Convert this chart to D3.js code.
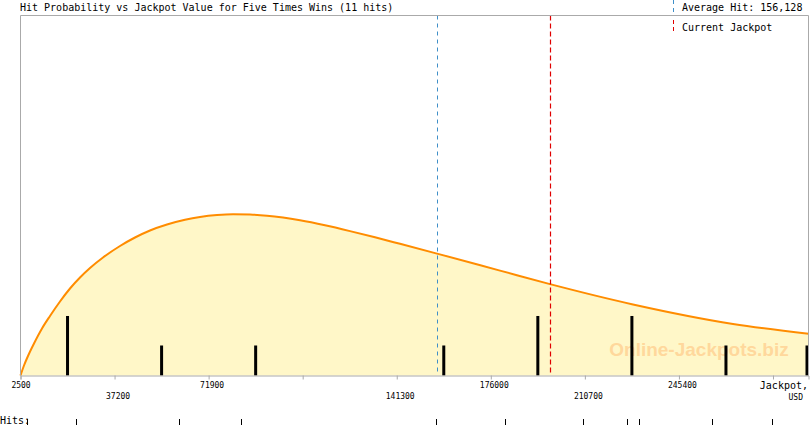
<!DOCTYPE html>
<html><head><meta charset="utf-8">
<script src="https://cdn.jsdelivr.net/npm/d3@7"></script>
<style>body{margin:0;background:#fff;overflow:hidden}</style>
</head><body><svg id="c" width="810" height="425"></svg>
<script>
const chartTitle = "Hit Probability vs Jackpot Value for Five Times Wins (11 hits)";
const curveJackpot = [2500, 3791, 5267, 7480, 10432, 13383, 17072, 20761, 24450, 28139, 32935, 39207, 44740, 50274, 56545, 63186, 68719, 74991, 80893, 87165, 93436, 99339, 105610, 114833, 124056, 133279, 142501, 156151, 179392, 197838, 228457, 265348, 293200];
const curveProb    = [0, 0.0278, 0.0542, 0.0889, 0.1306, 0.1653, 0.2056, 0.2417, 0.2722, 0.2986, 0.3278, 0.3597, 0.3833, 0.4028, 0.4194, 0.4325, 0.4403, 0.4458, 0.4481, 0.4472, 0.4439, 0.4386, 0.4311, 0.4172, 0.4011, 0.3839, 0.3658, 0.3386, 0.2914, 0.2539, 0.1975, 0.1433, 0.1161];
const hitValues  = [4900, 22990, 60900, 83900, 155880, 181300, 210140, 226300, 230550, 257750, 279900];
const binCenters = [19850, 54550, 89250, 158650, 193350, 228050, 262750, 297450];
const binCounts  = [2, 1, 1, 1, 2, 2, 1, 1];
const tickValues = [2500, 37200, 71900, 106600, 141300, 176000, 210700, 245400, 280100];
const tickLabels = ["2500", "37200", "71900", "", "141300", "176000", "210700", "245400", ""];
const tickRows   = [0, 1, 0, 0, 1, 0, 1, 0, 0];
const averageHit = 156128;
const currentJackpot = 198000;
const legendLabels = ["Average Hit: 156,128", "Current Jackpot"];

const svg = d3.select("#c");
const L = 20.5, R = 808.5, T = 15.5, B = 375.5;
const x = d3.scaleLinear().domain([2500, 293200]).range([L, R]);
const y = d3.scaleLinear().domain([0, 1]).range([B, T]);
const yh = d3.scaleLinear().domain([0, 12.2]).range([375, 15]);
const mono = "'DejaVu Sans Mono', monospace";

const pts = curveJackpot.map((v, i) => [v, curveProb[i]]);

// area
svg.append("path").datum(pts)
  .attr("d", d3.area().x(d => x(d[0])).y0(B).y1(d => y(d[1])).curve(d3.curveMonotoneX))
  .attr("fill", "#fff7c8");

// watermark
svg.append("text").attr("x", 699).attr("y", 356).attr("text-anchor", "middle")
  .attr("font-family", "'Liberation Sans', Arial, sans-serif").attr("font-weight", "bold")
  .attr("font-size", 19).attr("fill", "#ffd89c").text("Online-Jackpots.biz");

// bars
svg.append("g").selectAll("rect").data(binCenters).join("rect")
  .attr("x", (d) => Math.min(x(d) - 1.5, R - 3))
  .attr("width", 3)
  .attr("y", (d, i) => yh(binCounts[i]))
  .attr("height", (d, i) => 375.5 - yh(binCounts[i]))
  .attr("fill", "#000");

// curve line
svg.append("path").datum(pts)
  .attr("d", d3.line().x(d => x(d[0])).y(d => y(d[1])).curve(d3.curveMonotoneX))
  .attr("fill", "none").attr("stroke", "#ff8c00").attr("stroke-width", 2);

// reference lines
svg.append("line").attr("x1", Math.round(x(averageHit)) + 0.5).attr("x2", Math.round(x(averageHit)) + 0.5)
  .attr("y1", T).attr("y2", B).attr("stroke", "#3f8fc8").attr("stroke-width", 1).attr("stroke-dasharray", "4,4");
svg.append("line").attr("x1", Math.round(x(currentJackpot)) + 0.5).attr("x2", Math.round(x(currentJackpot)) + 0.5)
  .attr("y1", T).attr("y2", B).attr("stroke", "#e00000").attr("stroke-width", 1.2).attr("stroke-dasharray", "5,3");

// border
svg.append("path").attr("d", `M${L},${B}V${T}H${R}V${B}`).attr("fill", "none").attr("stroke", "#aaa").attr("stroke-width", 1);

// x axis
const axis = d3.axisBottom(x).tickValues(tickValues).tickSize(4).tickFormat((d, i) => tickLabels[i]);
const ax = svg.append("g").attr("transform", `translate(0,${B})`).call(axis);
ax.select(".domain").attr("stroke", "#aaa");
ax.selectAll(".tick line").attr("stroke", "#aaa");
ax.selectAll(".tick text")
  .attr("font-family", mono).attr("font-size", 8).attr("fill", "#000")
  .attr("dx", (d, i) => i === 0 ? 0 : 3)
  .attr("y", (d, i) => tickRows[i] === 0 ? 7 : 18);
svg.append("text").attr("x", 808).attr("y", 389).attr("text-anchor", "end")
  .attr("font-family", mono).attr("font-size", 10).text("Jackpot,");
svg.append("text").attr("x", 803).attr("y", 400).attr("text-anchor", "end")
  .attr("font-family", mono).attr("font-size", 8).text("USD");

// title
svg.append("text").attr("x", 20).attr("y", 11).attr("font-family", mono).attr("font-size", 10).text(chartTitle);

// legend
svg.append("line").attr("x1", 673.5).attr("x2", 673.5).attr("y1", 0).attr("y2", 12)
  .attr("stroke", "#3f8fc8").attr("stroke-dasharray", "4,4");
svg.append("line").attr("x1", 673.5).attr("x2", 673.5).attr("y1", 20).attr("y2", 33)
  .attr("stroke", "#e00000").attr("stroke-dasharray", "4,3");
svg.append("text").attr("x", 682).attr("y", 11).attr("font-family", mono).attr("font-size", 10).text(legendLabels[0]);
svg.append("text").attr("x", 682).attr("y", 31).attr("font-family", mono).attr("font-size", 10).text(legendLabels[1]);

// hits row
svg.append("text").attr("x", 0).attr("y", 424).attr("font-family", mono).attr("font-size", 10).text("Hits:");
svg.append("g").selectAll("line").data(hitValues).join("line")
  .attr("x1", d => Math.round(x(d)) + 0.5).attr("x2", d => Math.round(x(d)) + 0.5)
  .attr("y1", 419).attr("y2", 425).attr("stroke", "#000");
</script></body></html>
